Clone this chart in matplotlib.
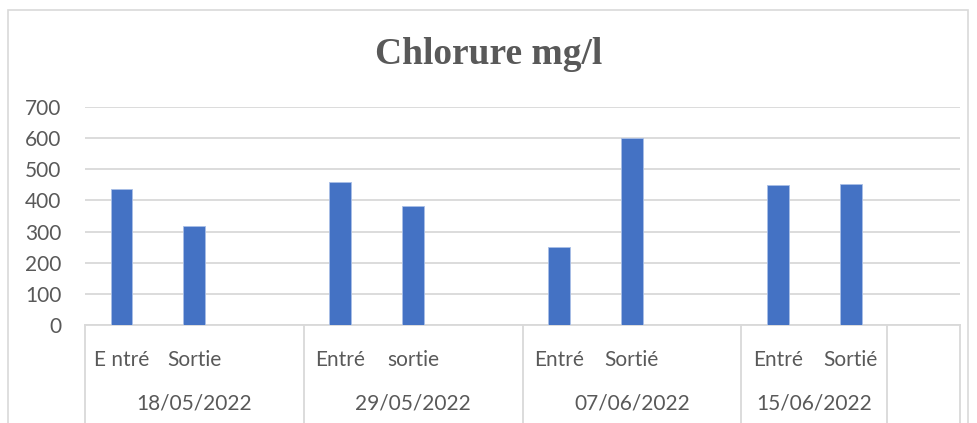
import numpy as np
import matplotlib

matplotlib.use("Agg")
import matplotlib.pyplot as plt
from matplotlib.patches import Rectangle
from matplotlib.transforms import blended_transform_factory

# inner category labels (empty slots are the gaps between dates)
labels = ["E ntré", "Sortie", "", "Entré", "sortie", "", "Entré", "Sortié", "", "Entré", "Sortié", ""]
values = [438, 317, np.nan, 458, 382, np.nan, 252, 599, np.nan, 448, 453, np.nan]
dates = ["18/05/2022", "29/05/2022", "07/06/2022", "15/06/2022"]
group_sizes = [3, 3, 3, 2]
yticks = [0, 100, 200, 300, 400, 500, 600, 700]

TXT = "#595959"
GRID = "#d9d9d9"
BLUE = "#4472C4"

plt.rcParams["font.family"] = ["Lato", "DejaVu Sans"]

fig = plt.figure(figsize=(9.78, 4.23), dpi=100)
fig.patch.set_facecolor("white")
fig.patches.append(Rectangle((8 / 978, -0.1), 960 / 978, 1.1 - 10 / 423,
                             transform=fig.transFigure, fill=False,
                             edgecolor=GRID, lw=1.2))

ax = fig.add_axes([85 / 978, 1 - 325 / 423, 875 / 978, 218 / 423])
x = np.arange(len(labels))
ax.bar(x, values, width=0.30, color=BLUE, edgecolor="#a9bfe6", lw=0.6, zorder=3)

ax.set_xlim(-0.5, len(labels) - 0.5)
ax.set_ylim(0, 700)
ax.set_yticks(yticks)
ax.set_yticklabels([str(v) for v in yticks])
ax.tick_params(axis="y", length=0, pad=17, labelsize=15, labelcolor=TXT)
ax.grid(axis="y", color=GRID, lw=1.3, zorder=0)
ax.set_axisbelow(True)
for s in ["top", "right", "left"]:
    ax.spines[s].set_visible(False)
ax.spines["bottom"].set_color(GRID)
ax.spines["bottom"].set_linewidth(1.3)

ax.set_xticks(x)
ax.set_xticklabels(labels, fontsize=15, color=TXT)
ax.tick_params(axis="x", length=0, pad=18)

# second level: dates and group separators
tr = blended_transform_factory(ax.transData, ax.transAxes)
bottom = -(423 - 325) / 218
start = 0
bounds = [start]
for d, n in zip(dates, group_sizes):
    ax.text(start + n / 2 - 0.5, -0.36, d, transform=tr, ha="center", va="center",
            fontsize=15, color=TXT)
    start += n
    bounds.append(start)
bounds.append(len(labels))
for b in bounds:
    ax.plot([b - 0.5, b - 0.5], [0, bottom], transform=tr, color=GRID, lw=1.3,
            clip_on=False)

fig.text(0.5, 1 - 55 / 423, "Chlorure mg/l", ha="center", va="center",
         fontsize=27, fontweight="bold", color=TXT, family="Liberation Serif")

fig.savefig("out.png", dpi=100)
